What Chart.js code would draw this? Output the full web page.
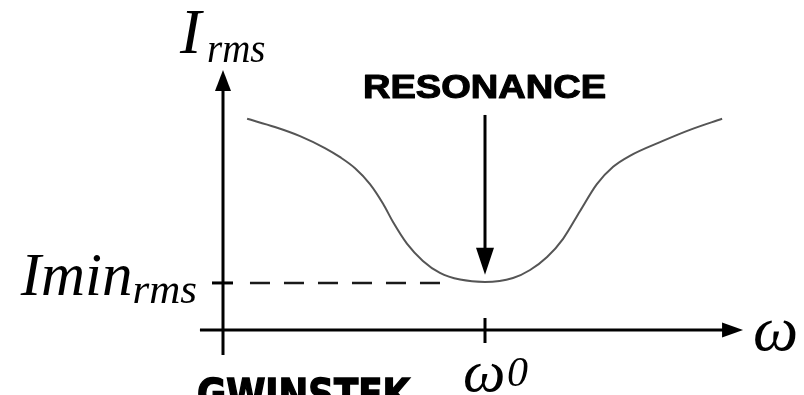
<!DOCTYPE html>
<html>
<head>
<meta charset="utf-8">
<script src="https://cdn.jsdelivr.net/npm/chart.js@4/dist/chart.umd.min.js"></script>
<style>
  html, body { margin: 0; padding: 0; background: #fff; }
  #wrap { width: 804px; height: 395px; position: relative; }
</style>
</head>
<body>
<div id="wrap"><canvas id="chart"></canvas></div>
<script>
'use strict';

// frequency as omega / omega0, current in units of Imin (roughly)
const omega = [0.092, 0.198, 0.294, 0.389, 0.447, 0.504, 0.561, 0.611, 0.649, 0.702, 0.763, 0.828, 0.905, 1.0,
               1.107, 1.172, 1.237, 1.298, 1.363, 1.427, 1.489, 1.553, 1.679, 1.782, 1.905]
const current = [4.40, 4.23, 4.04, 3.79, 3.60, 3.37, 3.04, 2.63, 2.25, 1.80, 1.44, 1.19, 1.05, 1.0,
                 1.083, 1.25, 1.52, 1.90, 2.48, 3.04, 3.40, 3.63, 3.94, 4.17, 4.40]

// dashed level line for the minimum
const iMin = 0.98
const dashedOmega = [0.103, 0.84]

// tick marks
const xTicks = [1]
const yTicks = [iMin]

// axis extents (data units)
const xAxisRange = [-0.088, 1.985]
const yAxisRange = [-0.52, 5.417]

// resonance arrow
const resonanceAt = 1
const resonanceArrow = [4.48, 1.15]

function line(ctx, x1, y1, x2, y2) {
  ctx.beginPath()
  ctx.moveTo(x1, y1)
  ctx.lineTo(x2, y2)
  ctx.stroke()
}

function arrowHead(ctx, tx, ty, dx, dy, len, half) {
  // dx,dy: unit direction the arrow points to
  const bx = tx - dx * len, by = ty - dy * len
  ctx.beginPath()
  ctx.moveTo(tx, ty)
  ctx.lineTo(bx - dy * half, by + dx * half)
  ctx.lineTo(bx + dy * half, by - dx * half)
  ctx.closePath()
  ctx.fill()
}

const serif = '"Liberation Serif", "Times New Roman", serif'

const sketchPlugin = {
  id: 'sketch',
  afterDraw(chart) {
    const ctx = chart.ctx
    const xs = chart.scales.x, ys = chart.scales.y
    const x0 = xs.getPixelForValue(0)
    const y0 = ys.getPixelForValue(0)
    const xLeft = xs.getPixelForValue(xAxisRange[0])
    const xEnd = xs.getPixelForValue(xAxisRange[1])
    const yBottom = ys.getPixelForValue(yAxisRange[0])
    const yTop = ys.getPixelForValue(yAxisRange[1])

    ctx.save()
    ctx.strokeStyle = '#000'
    ctx.fillStyle = '#000'
    ctx.lineWidth = 3

    // axes
    line(ctx, x0, yBottom, x0, yTop + 16)
    arrowHead(ctx, x0, yTop, 0, -1, 21, 8)
    line(ctx, xLeft, y0, xEnd - 16, y0)
    arrowHead(ctx, xEnd, y0, 1, 0, 21, 7.5)

    // ticks
    xTicks.forEach(v => {
      const px = xs.getPixelForValue(v)
      line(ctx, px, y0 - 12, px, y0 + 13)
    })
    yTicks.forEach(v => {
      const py = ys.getPixelForValue(v)
      line(ctx, x0 - 11, py, x0 + 10, py)
    })

    // resonance arrow
    const rx = xs.getPixelForValue(resonanceAt)
    const rTop = ys.getPixelForValue(resonanceArrow[0])
    const rTip = ys.getPixelForValue(resonanceArrow[1])
    ctx.lineWidth = 3
    line(ctx, rx, rTop, rx, rTip - 20)
    arrowHead(ctx, rx, rTip, 0, 1, 27, 9)

    // RESONANCE label
    ctx.font = 'bold 33px "Liberation Sans", Arial, sans-serif'
    ctx.textBaseline = 'alphabetic'
    ctx.textAlign = 'left'
    let w = ctx.measureText('RESONANCE').width
    ctx.save()
    ctx.translate(rx - 122, rTop - 17)
    ctx.scale(243 / w, 1)
    ctx.lineWidth = 1.1
    ctx.lineJoin = 'round'
    ctx.fillText('RESONANCE', 0, 0)
    ctx.strokeText('RESONANCE', 0, 0)
    ctx.restore()

    // I_rms
    ctx.font = 'italic 64px ' + serif
    ctx.fillText('I', x0 - 43, yTop - 17)
    ctx.font = 'italic 39px ' + serif
    ctx.fillText('rms', x0 - 16, yTop - 8)

    // Imin_rms
    const yMin = ys.getPixelForValue(iMin)
    ctx.font = 'italic 61px ' + serif
    const wImin = ctx.measureText('Imin').width
    ctx.font = 'italic 43px ' + serif
    const wRms = ctx.measureText('rms').width
    const sx = x0 - 26 - wImin - wRms
    ctx.font = 'italic 61px ' + serif
    ctx.fillText('Imin', sx, yMin + 12)
    ctx.font = 'italic 43px ' + serif
    ctx.fillText('rms', sx + wImin, yMin + 20)

    // omega
    ctx.font = 'italic 64px ' + serif
    ctx.fillText('\u03C9', xEnd + 10, y0 + 20)

    // omega_0
    const wx = xs.getPixelForValue(xTicks[0])
    ctx.font = 'italic 60px ' + serif
    ctx.fillText('\u03C9', wx - 22, y0 + 61)
    ctx.font = 'italic 42px ' + serif
    ctx.fillText('0', wx + 22, y0 + 56)

    // logo, cut off at the bottom edge
    ctx.font = 'bold 42px "DejaVu Sans", sans-serif'
    w = ctx.measureText('GWINSTEK').width
    ctx.save()
    ctx.translate(x0 - 26, y0 + 79)
    ctx.scale(213 / w, 1)
    ctx.lineWidth = 1.5
    ctx.fillText('GWINSTEK', 0, 0)
    ctx.strokeText('GWINSTEK', 0, 0)
    ctx.restore()

    ctx.restore()
  }
}

const data = {
  datasets: [
    {
      label: 'I',
      data: omega.map((w, i) => ({ x: w, y: current[i] })),
      borderColor: '#555',
      borderWidth: 2,
      pointRadius: 0,
      cubicInterpolationMode: 'monotone',
      fill: false,
    },
    {
      label: 'Imin',
      data: dashedOmega.map(w => ({ x: w, y: iMin })),
      borderColor: '#1a1a1a',
      borderWidth: 2.5,
      borderDash: [20, 14],
      pointRadius: 0,
      fill: false,
    },
  ]
}

const config = {
  type: 'line',
  data: data,
  options: {
    responsive: true,
    maintainAspectRatio: false,
    animation: false,
    layout: { padding: { left: 223, right: 57, top: 90, bottom: 65 } },
    scales: {
      x: { type: 'linear', min: 0, max: 2, display: false },
      y: { type: 'linear', min: 0, max: 5, display: false },
    },
    plugins: {
      legend: { display: false },
      tooltip: { enabled: false },
    },
  },
  plugins: [sketchPlugin],
}

const resultChart = new Chart(document.getElementById('chart'), config)
</script>
</body>
</html>
